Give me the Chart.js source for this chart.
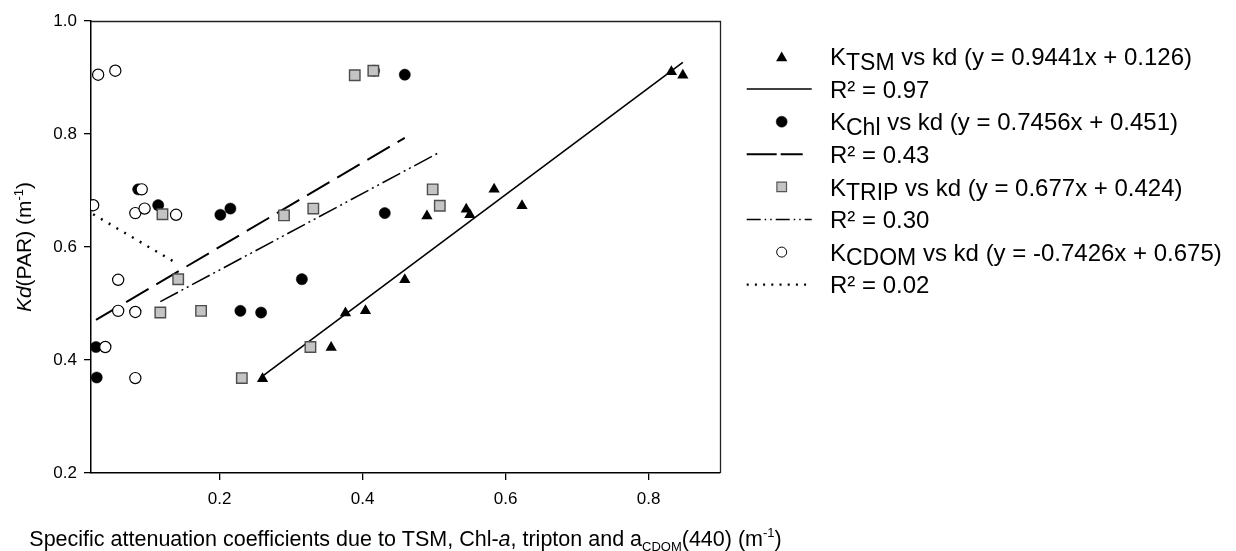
<!DOCTYPE html>
<html>
<head>
<meta charset="utf-8">
<script src="https://cdn.jsdelivr.net/npm/chart.js@4.4.1/dist/chart.umd.min.js"></script>
<style>
  html, body { margin: 0; padding: 0; background: #fff; }
</style>
</head>
<body>
<canvas id="chart" width="1236" height="551"></canvas>
<script>
// Specific attenuation coefficients (x) against Kd(PAR) (y)
const tsmX = [0.260, 0.356, 0.376, 0.404, 0.459, 0.490, 0.545, 0.550, 0.584, 0.623, 0.832, 0.848];
const tsmY = [0.367, 0.422, 0.483, 0.487, 0.542, 0.655, 0.667, 0.657, 0.702, 0.673, 0.910, 0.904];

const chlX = [0.027, 0.028, 0.086, 0.114, 0.201, 0.215, 0.229, 0.258, 0.315, 0.416, 0.431, 0.459];
const chlY = [0.423, 0.369, 0.702, 0.674, 0.657, 0.668, 0.487, 0.484, 0.543, 0.912, 0.660, 0.905];

const tripX = [0.117, 0.120, 0.142, 0.174, 0.231, 0.290, 0.327, 0.331, 0.389, 0.415, 0.498, 0.508];
const tripY = [0.484, 0.658, 0.543, 0.487, 0.368, 0.656, 0.423, 0.668, 0.904, 0.912, 0.702, 0.673];

const cdomX = [0.023, 0.030, 0.040, 0.054, 0.058, 0.058, 0.082, 0.082, 0.082, 0.091, 0.095, 0.139];
const cdomY = [0.674, 0.905, 0.423, 0.912, 0.542, 0.487, 0.660, 0.485, 0.368, 0.702, 0.668, 0.657];

// Linear fits: [slope, intercept, R²]
const tsmFit = [0.9441, 0.126, "0.97"];
const chlFit = [0.7456, 0.451, "0.43"];
const tripFit = [0.677, 0.424, "0.30"];
const cdomFit = [-0.7426, 0.675, "0.02"];

const xTicks = [0.2, 0.4, 0.6, 0.8];
const yTicks = [0.2, 0.4, 0.6, 0.8, 1.0];

const FONT = "'Liberation Sans', Arial, sans-serif";

// Dash patterns for the fitted lines
const DASH_CHL = [26, 9];
const DASH_TRIP = [20, 4, 2, 4, 2, 4];
const DASH_CDOM = [2, 7];

function points(xs, ys) {
  return xs.map((x, i) => ({ x: x, y: ys[i] }));
}

// Fitted line spanning the x range of its series
function fitLine(xs, fit) {
  const lo = Math.min(...xs);
  const hi = Math.max(...xs);
  return [
    { x: lo, y: fit[0] * lo + fit[1] },
    { x: hi, y: fit[0] * hi + fit[1] },
  ];
}

// Draw text made of runs: [text, kind] where kind is "", "i", "sub", "sup", "lsub"
function drawRuns(ctx, runs, x, y, size, align) {
  const styleOf = (kind) => {
    if (kind === "i") return { font: `italic ${size}px ${FONT}`, dy: 0 };
    if (kind === "sub") return { font: `${Math.round(size * 0.62)}px ${FONT}`, dy: size * 0.25 };
    if (kind === "lsub") return { font: `${Math.round(size * 0.94)}px ${FONT}`, dy: size * 0.19 };
    if (kind === "sup") return { font: `${Math.round(size * 0.62)}px ${FONT}`, dy: -size * 0.4 };
    return { font: `${size}px ${FONT}`, dy: 0 };
  };
  let total = 0;
  const widths = runs.map(([t, k]) => {
    ctx.font = styleOf(k).font;
    const w = ctx.measureText(t).width;
    total += w;
    return w;
  });
  let cx = align === "center" ? x - total / 2 : x;
  ctx.textAlign = "left";
  ctx.textBaseline = "alphabetic";
  runs.forEach(([t, k], i) => {
    const s = styleOf(k);
    ctx.font = s.font;
    ctx.fillText(t, cx, y + s.dy);
    cx += widths[i];
  });
}

// Frame, axis titles and the legend block
const decorations = {
  id: "decorations",
  afterDraw(chart) {
    const ctx = chart.ctx;
    const area = chart.chartArea;
    ctx.save();
    ctx.fillStyle = "#000";
    ctx.strokeStyle = "#222";
    ctx.lineWidth = 1.3;
    ctx.beginPath();
    ctx.moveTo(area.left, area.top + 0.5);
    ctx.lineTo(area.right + 0.5, area.top + 0.5);
    ctx.lineTo(area.right + 0.5, area.bottom);
    ctx.stroke();

    // x axis title
    drawRuns(ctx, [
      ["Specific attenuation coefficients due to TSM, Chl-", ""],
      ["a", "i"],
      [", tripton and a", ""],
      ["CDOM", "sub"],
      ["(440) (m", ""],
      ["-1", "sup"],
      [")", ""],
    ], (area.left + area.right) / 2, 546, 21.5, "center");

    // y axis title
    ctx.save();
    ctx.translate(31, (area.top + area.bottom) / 2);
    ctx.rotate(-Math.PI / 2);
    drawRuns(ctx, [
      ["Kd", "i"],
      ["(PAR) (m", ""],
      ["-1", "sup"],
      [")", ""],
    ], 0, 0, 21, "center");
    ctx.restore();

    // legend
    const rows = [
      { marker: { pointStyle: "triangle", radius: 6.5, fill: "#000", stroke: "#000", bw: 0 },
        text: [["K", ""], ["TSM", "lsub"], [` vs kd (y = ${tsmFit[0]}x + ${tsmFit[1]})`, ""]] },
      { line: [], width: 1.5, text: [["R² = " + tsmFit[2], ""]] },
      { marker: { pointStyle: "circle", radius: 5.5, fill: "#000", stroke: "#000", bw: 0.5 },
        text: [["K", ""], ["Chl", "lsub"], [` vs kd (y = ${chlFit[0]}x + ${chlFit[1]})`, ""]] },
      { line: [30, 4, 22, 10], width: 2, text: [["R² = " + chlFit[2], ""]] },
      { marker: { pointStyle: "rect", radius: 6.8, fill: "#c4c4c4", stroke: "#555", bw: 1.2 },
        text: [["K", ""], ["TRIP", "lsub"], [` vs kd (y = ${tripFit[0]}x + ${tripFit[1]})`, ""]] },
      { line: [14, 4, 1.5, 4, 1.5, 4], width: 1.4, text: [["R² = " + tripFit[2], ""]] },
      { marker: { pointStyle: "circle", radius: 5, fill: "#fff", stroke: "#000", bw: 1 },
        text: [["K", ""], ["CDOM", "lsub"], [` vs kd (y = ${cdomFit[0]}x + ${cdomFit[1]})`, ""]] },
      { line: [2, 6.2], width: 2.2, text: [["R² = " + cdomFit[2], ""]] },
    ];
    rows.forEach((row, i) => {
      const cy = 56.5 + i * 32.6;
      if (row.marker) {
        const m = row.marker;
        ctx.fillStyle = m.fill;
        ctx.strokeStyle = m.stroke;
        ctx.lineWidth = m.bw;
        Chart.helpers.drawPoint(ctx, { pointStyle: m.pointStyle, radius: m.radius, rotation: 0, borderWidth: m.bw }, 781.7, cy + (m.pointStyle === "triangle" ? 1.5 : 0));
      } else {
        ctx.strokeStyle = "#000";
        ctx.lineWidth = row.width;
        ctx.setLineDash(row.line);
        ctx.beginPath();
        ctx.moveTo(746.7, cy);
        ctx.lineTo(811.7, cy);
        ctx.stroke();
        ctx.setLineDash([]);
      }
      ctx.fillStyle = "#000";
      drawRuns(ctx, row.text, 830, cy + 8.6, 24, "left");
    });
    ctx.restore();
  },
};

const canvas = document.getElementById("chart");

new Chart(canvas, {
  type: "scatter",
  data: {
    datasets: [
      {
        data: points(tsmX, tsmY), order: 4,
        pointStyle: "triangle", pointRadius: 6.5,
        backgroundColor: "#000", borderColor: "#000", borderWidth: 0,
      },
      {
        data: points(chlX, chlY), order: 3,
        pointStyle: "circle", pointRadius: 5.6,
        backgroundColor: "#000", borderColor: "#000", borderWidth: 0.5,
      },
      {
        data: points(tripX, tripY), order: 2,
        pointStyle: "rect", pointRadius: 7.4,
        backgroundColor: "#c4c4c4", borderColor: "#4d4d4d", borderWidth: 1.4,
      },
      {
        data: points(cdomX, cdomY), order: 1,
        pointStyle: "circle", pointRadius: 5.6,
        backgroundColor: "#fff", borderColor: "#000", borderWidth: 1.2,
      },
      {
        data: fitLine(tsmX, tsmFit), order: 8, showLine: true, pointRadius: 0,
        borderColor: "#000", borderWidth: 1.6,
      },
      {
        data: fitLine(chlX, chlFit), order: 7, showLine: true, pointRadius: 0,
        borderColor: "#000", borderWidth: 2, borderDash: DASH_CHL,
      },
      {
        data: fitLine(tripX, tripFit), order: 6, showLine: true, pointRadius: 0,
        borderColor: "#000", borderWidth: 1.5, borderDash: DASH_TRIP,
      },
      {
        data: fitLine(cdomX, cdomFit), order: 5, showLine: true, pointRadius: 0,
        borderColor: "#000", borderWidth: 2.4, borderDash: DASH_CDOM,
      },
    ],
  },
  options: {
    responsive: false,
    animation: false,
    events: [],
    layout: { padding: { left: 0, top: 21, right: 516, bottom: 0 } },
    scales: {
      x: {
        type: "linear",
        min: 0.02,
        max: 0.9,
        afterBuildTicks: (scale) => {
          scale.ticks = xTicks.map((v) => ({ value: v }));
        },
        afterFit: (scale) => {
          scale.height = 78;
        },
        grid: { drawOnChartArea: false, drawTicks: true, tickLength: 7, color: "#000", lineWidth: 1.3 },
        border: { display: true, color: "#000", width: 1.5 },
        ticks: {
          color: "#000",
          padding: 9,
          font: { family: FONT, size: 17 },
          callback: (v) => v.toFixed(1),
        },
      },
      y: {
        type: "linear",
        min: 0.2,
        max: 1.0,
        afterBuildTicks: (scale) => {
          scale.ticks = yTicks.map((v) => ({ value: v }));
        },
        afterFit: (scale) => {
          scale.width = 91;
        },
        grid: { drawOnChartArea: false, drawTicks: true, tickLength: 7, color: "#000", lineWidth: 1.3 },
        border: { display: true, color: "#000", width: 1.5 },
        ticks: {
          color: "#000",
          padding: 7,
          font: { family: FONT, size: 17 },
          callback: (v) => v.toFixed(1),
        },
      },
    },
    plugins: {
      legend: { display: false },
      tooltip: { enabled: false },
    },
  },
  plugins: [decorations],
});
</script>
</body>
</html>
